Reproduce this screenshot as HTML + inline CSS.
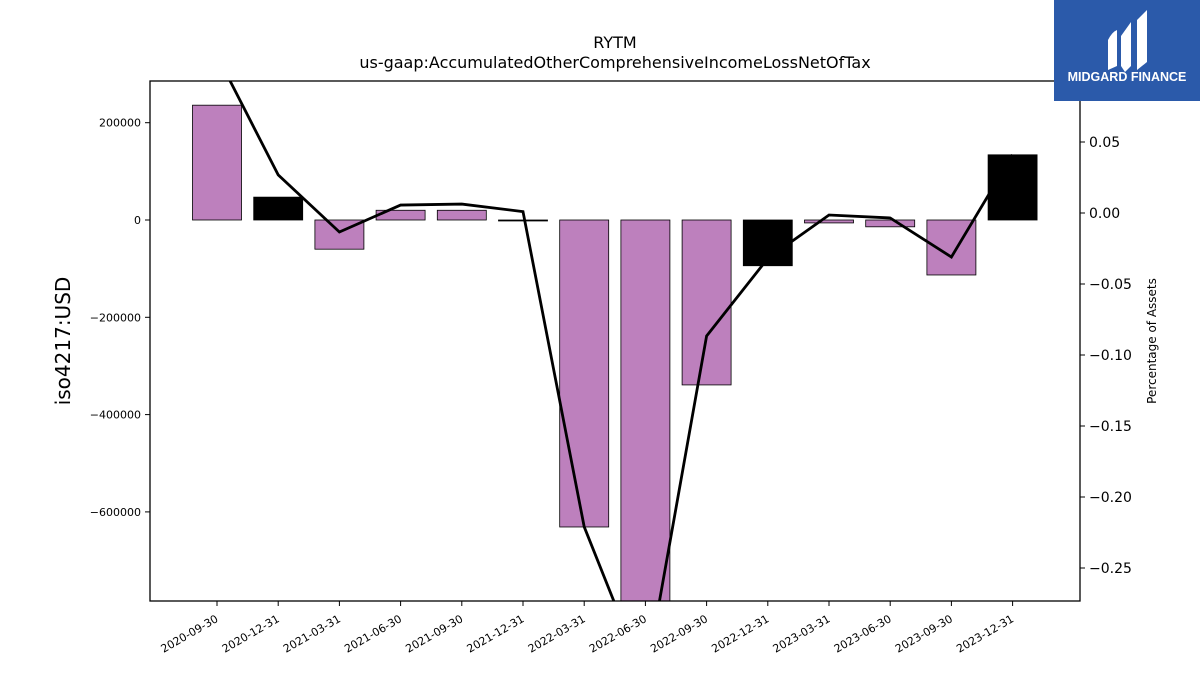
<!DOCTYPE html>
<html><head><meta charset="utf-8"><style>
body{margin:0;background:#fff;font-family:"Liberation Sans","DejaVu Sans",sans-serif;}
svg text{font-family:"DejaVu Sans","Liberation Sans",sans-serif;}
</style></head><body>
<svg id="c" width="1200" height="675" xmlns="http://www.w3.org/2000/svg">
<text x="615" y="48" font-size="16" text-anchor="middle">RYTM</text>
<text x="615" y="68" font-size="16" text-anchor="middle">us-gaap:AccumulatedOtherComprehensiveIncomeLossNetOfTax</text>
<g id="bars"></g>
<g id="line"></g>
<rect x="150" y="81" width="930" height="520" fill="none" stroke="#000" stroke-width="1.3"/>
<g id="axes"></g>
<text transform="translate(70,341) rotate(-90)" font-size="20" text-anchor="middle">iso4217:USD</text>
<text transform="translate(1156,341) rotate(-90)" font-size="12" text-anchor="middle">Percentage of Assets</text>
<g>
<rect x="1054" y="0" width="146" height="101" fill="#2b5aaa"/>
<path d="M1108 40 Q1112 32 1117 30 L1117 66 L1108 70 Z M1121 36 L1131 22 L1131 66 L1125 72 L1121 66 Z M1137 20 L1147 10 L1147 62 L1137 70 Z" fill="#fff"/>
<text x="1127" y="81" font-size="12.5" font-weight="bold" fill="#fff" text-anchor="middle" style="font-family:'Liberation Sans',sans-serif">MIDGARD FINANCE</text>
</g>
</svg>
<script>
const categories=["2020-09-30","2020-12-31","2021-03-31","2021-06-30","2021-09-30","2021-12-31","2022-03-31","2022-06-30","2022-09-30","2022-12-31","2023-03-31","2023-06-30","2023-09-30","2023-12-31"];
const values=[236000,47000,-60000,20000,20000,-2000,-631000,-800000,-339000,-94000,-6000,-14000,-113000,134000];
const pct=[0.111,0.0268,-0.0134,0.0056,0.0063,0.001,-0.221,-0.329,-0.0866,-0.032,-0.0014,-0.0035,-0.031,0.041];
const leftTicks=[200000,0,-200000,-400000,-600000];
const leftTickLabels=["200000","0","\u2212200000","\u2212400000","\u2212600000"];
const rightTicks=[0.05,0,-0.05,-0.1,-0.15,-0.2,-0.25];
const rightTickLabels=["0.05","0.00","\u22120.05","\u22120.10","\u22120.15","\u22120.20","\u22120.25"];
const NS="http://www.w3.org/2000/svg";
const X0=150,X1=1080,Y0=81,Y1=601;
const xs=i=>217+i*61.2;
const yL=v=>220-v*0.0004865;
const yR=v=>213-v*1420;
function mk(t,a,p){const e=document.createElementNS(NS,t);for(const k in a)e.setAttribute(k,a[k]);p.appendChild(e);return e;}
const bars=document.getElementById('bars');
categories.forEach((c,i)=>{
  const v=values[i];let t=yL(Math.max(v,0)),b=yL(Math.min(v,0));
  t=Math.max(t,Y0);b=Math.min(b,Y1);
  const r=mk('rect',{x:xs(i)-24.5,y:t,width:49,height:Math.max(b-t,0.8),fill:c.endsWith('12-31')?'#000':'#bd80bd',stroke:'#000','stroke-width':0.8},bars);
  
  
});
const cp=mk('clipPath',{id:'cl'},document.getElementById('c'));
mk('rect',{x:X0,y:Y0,width:X1-X0,height:Y1-Y0},cp);
const pl=mk('polyline',{points:pct.map((p,i)=>xs(i)+','+yR(p)).join(' '),fill:'none',stroke:'#000','stroke-width':2.8,'clip-path':'url(#cl)'},document.getElementById('line'));


const ax=document.getElementById('axes');
leftTicks.forEach((v,i)=>{const y=yL(v);
  mk('line',{x1:X0-5,x2:X0,y1:y,y2:y,stroke:'#000'},ax);
  const t=mk('text',{x:X0-9,y:y+4,'font-size':11,'text-anchor':'end'},ax);t.textContent=leftTickLabels[i];
  
  });
rightTicks.forEach((v,i)=>{const y=yR(v);
  mk('line',{x1:X1,x2:X1+5,y1:y,y2:y,stroke:'#000'},ax);
  const t=mk('text',{x:X1+9,y:y+5,'font-size':14},ax);t.textContent=rightTickLabels[i];
  
  });
categories.forEach((c,i)=>{const x=xs(i);
  mk('line',{x1:x,x2:x,y1:Y1,y2:Y1+5,stroke:'#000'},ax);
  const t=mk('text',{x:x+2,y:Y1+20,'font-size':11,'text-anchor':'end',transform:`rotate(-30 ${x+2} ${Y1+20})`},ax);t.textContent=c;
  
  });
</script>
</body></html>
